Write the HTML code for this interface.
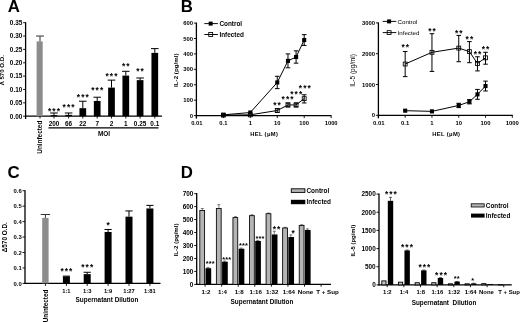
<!DOCTYPE html>
<html><head><meta charset="utf-8"><title>Figure</title>
<style>
html,body{margin:0;padding:0;background:#fff;}
body{width:520px;height:322px;overflow:hidden;}
svg{display:block;font-family:"Liberation Sans",sans-serif;fill:#000;}
</style></head><body>
<svg width="520" height="322" viewBox="0 0 520 322">
<rect x="0" y="0" width="520" height="322" fill="#fff"/>
<text x="7.70" y="12.00" font-size="16.8" text-anchor="start" font-weight="bold">A</text>
<line x1="25.60" y1="119.00" x2="25.60" y2="22.18" stroke="#000" stroke-width="1.3"/>
<line x1="23.10" y1="116.20" x2="25.60" y2="116.20" stroke="#000" stroke-width="0.9"/>
<text x="22.30" y="118.50" font-size="6.4" text-anchor="end" font-weight="bold">0.00</text>
<line x1="23.10" y1="102.84" x2="25.60" y2="102.84" stroke="#000" stroke-width="0.9"/>
<text x="22.30" y="105.14" font-size="6.4" text-anchor="end" font-weight="bold">0.05</text>
<line x1="23.10" y1="89.48" x2="25.60" y2="89.48" stroke="#000" stroke-width="0.9"/>
<text x="22.30" y="91.78" font-size="6.4" text-anchor="end" font-weight="bold">0.10</text>
<line x1="23.10" y1="76.12" x2="25.60" y2="76.12" stroke="#000" stroke-width="0.9"/>
<text x="22.30" y="78.42" font-size="6.4" text-anchor="end" font-weight="bold">0.15</text>
<line x1="23.10" y1="62.76" x2="25.60" y2="62.76" stroke="#000" stroke-width="0.9"/>
<text x="22.30" y="65.06" font-size="6.4" text-anchor="end" font-weight="bold">0.20</text>
<line x1="23.10" y1="49.40" x2="25.60" y2="49.40" stroke="#000" stroke-width="0.9"/>
<text x="22.30" y="51.70" font-size="6.4" text-anchor="end" font-weight="bold">0.25</text>
<line x1="23.10" y1="36.04" x2="25.60" y2="36.04" stroke="#000" stroke-width="0.9"/>
<text x="22.30" y="38.34" font-size="6.4" text-anchor="end" font-weight="bold">0.30</text>
<line x1="23.10" y1="22.68" x2="25.60" y2="22.68" stroke="#000" stroke-width="0.9"/>
<text x="22.30" y="24.98" font-size="6.4" text-anchor="end" font-weight="bold">0.35</text>
<line x1="25.10" y1="116.20" x2="162.00" y2="116.20" stroke="#000" stroke-width="1.3"/>
<rect x="36.60" y="41.38" width="6.10" height="74.82" fill="#8c8c8c"/>
<line x1="40.00" y1="36.04" x2="40.00" y2="41.38" stroke="#333" stroke-width="1.0"/>
<line x1="36.00" y1="36.04" x2="44.00" y2="36.04" stroke="#333" stroke-width="1.0"/>
<line x1="40.00" y1="116.20" x2="40.00" y2="118.50" stroke="#000" stroke-width="0.9"/>
<rect x="50.65" y="115.13" width="6.70" height="1.07" fill="#000"/>
<line x1="54.00" y1="112.99" x2="54.00" y2="115.13" stroke="#000" stroke-width="1.0"/>
<line x1="50.20" y1="112.99" x2="57.80" y2="112.99" stroke="#000" stroke-width="1.0"/>
<line x1="54.00" y1="116.20" x2="54.00" y2="118.50" stroke="#000" stroke-width="0.9"/>
<text x="54.54" y="114.00" font-size="8.4" text-anchor="middle" font-weight="bold" letter-spacing="1.08">***</text>
<text x="54.00" y="125.50" font-size="6.4" text-anchor="middle" font-weight="bold">200</text>
<rect x="65.25" y="114.86" width="6.70" height="1.34" fill="#000"/>
<line x1="68.60" y1="112.99" x2="68.60" y2="114.86" stroke="#000" stroke-width="1.0"/>
<line x1="64.80" y1="112.99" x2="72.40" y2="112.99" stroke="#000" stroke-width="1.0"/>
<line x1="68.60" y1="116.20" x2="68.60" y2="118.50" stroke="#000" stroke-width="0.9"/>
<text x="69.14" y="110.00" font-size="8.4" text-anchor="middle" font-weight="bold" letter-spacing="1.08">***</text>
<text x="68.60" y="125.50" font-size="6.4" text-anchor="middle" font-weight="bold">66</text>
<rect x="79.45" y="108.18" width="6.70" height="8.02" fill="#000"/>
<line x1="82.80" y1="101.24" x2="82.80" y2="108.18" stroke="#000" stroke-width="1.0"/>
<line x1="79.00" y1="101.24" x2="86.60" y2="101.24" stroke="#000" stroke-width="1.0"/>
<line x1="82.80" y1="116.20" x2="82.80" y2="118.50" stroke="#000" stroke-width="0.9"/>
<text x="83.34" y="100.00" font-size="8.4" text-anchor="middle" font-weight="bold" letter-spacing="1.08">***</text>
<text x="82.80" y="125.50" font-size="6.4" text-anchor="middle" font-weight="bold">22</text>
<rect x="93.85" y="100.97" width="6.70" height="15.23" fill="#000"/>
<line x1="97.20" y1="97.23" x2="97.20" y2="100.97" stroke="#000" stroke-width="1.0"/>
<line x1="93.40" y1="97.23" x2="101.00" y2="97.23" stroke="#000" stroke-width="1.0"/>
<line x1="97.20" y1="116.20" x2="97.20" y2="118.50" stroke="#000" stroke-width="0.9"/>
<text x="97.74" y="93.00" font-size="8.4" text-anchor="middle" font-weight="bold" letter-spacing="1.08">***</text>
<text x="97.20" y="125.50" font-size="6.4" text-anchor="middle" font-weight="bold">7</text>
<rect x="108.15" y="87.61" width="6.70" height="28.59" fill="#000"/>
<line x1="111.50" y1="80.13" x2="111.50" y2="87.61" stroke="#000" stroke-width="1.0"/>
<line x1="107.70" y1="80.13" x2="115.30" y2="80.13" stroke="#000" stroke-width="1.0"/>
<line x1="111.50" y1="116.20" x2="111.50" y2="118.50" stroke="#000" stroke-width="0.9"/>
<text x="112.04" y="79.00" font-size="8.4" text-anchor="middle" font-weight="bold" letter-spacing="1.08">***</text>
<text x="111.50" y="125.50" font-size="6.4" text-anchor="middle" font-weight="bold">2</text>
<rect x="122.45" y="75.59" width="6.70" height="40.61" fill="#000"/>
<line x1="125.80" y1="71.31" x2="125.80" y2="75.59" stroke="#000" stroke-width="1.0"/>
<line x1="122.00" y1="71.31" x2="129.60" y2="71.31" stroke="#000" stroke-width="1.0"/>
<line x1="125.80" y1="116.20" x2="125.80" y2="118.50" stroke="#000" stroke-width="0.9"/>
<text x="126.34" y="69.00" font-size="8.4" text-anchor="middle" font-weight="bold" letter-spacing="1.08">**</text>
<text x="125.80" y="125.50" font-size="6.4" text-anchor="middle" font-weight="bold">1</text>
<rect x="136.75" y="80.13" width="6.70" height="36.07" fill="#000"/>
<line x1="140.10" y1="77.99" x2="140.10" y2="80.13" stroke="#000" stroke-width="1.0"/>
<line x1="136.30" y1="77.99" x2="143.90" y2="77.99" stroke="#000" stroke-width="1.0"/>
<line x1="140.10" y1="116.20" x2="140.10" y2="118.50" stroke="#000" stroke-width="0.9"/>
<text x="140.64" y="74.00" font-size="8.4" text-anchor="middle" font-weight="bold" letter-spacing="1.08">**</text>
<text x="140.10" y="125.50" font-size="6.4" text-anchor="middle" font-weight="bold">0.25</text>
<rect x="151.45" y="52.87" width="6.70" height="63.33" fill="#000"/>
<line x1="154.80" y1="48.60" x2="154.80" y2="52.87" stroke="#000" stroke-width="1.0"/>
<line x1="151.00" y1="48.60" x2="158.60" y2="48.60" stroke="#000" stroke-width="1.0"/>
<line x1="154.80" y1="116.20" x2="154.80" y2="118.50" stroke="#000" stroke-width="0.9"/>
<text x="154.80" y="125.50" font-size="6.4" text-anchor="middle" font-weight="bold">0.1</text>
<line x1="48.50" y1="127.90" x2="158.50" y2="127.90" stroke="#000" stroke-width="1.1"/>
<text x="104.00" y="136.00" font-size="6.4" text-anchor="middle" font-weight="bold">MOI</text>
<text x="40.00" y="120.70" font-size="6.4" text-anchor="end" font-weight="bold" transform="rotate(-90 40 120.7)" dominant-baseline="middle">Uninfected</text>
<text x="4.50" y="70.20" font-size="6.1" text-anchor="middle" font-weight="bold" transform="rotate(-90 4.5 70.2)">Λ 570 O.D.</text>
<text x="180.80" y="12.00" font-size="16.8" text-anchor="start" font-weight="bold">B</text>
<line x1="196.40" y1="118.60" x2="196.40" y2="22.58" stroke="#000" stroke-width="1.3"/>
<line x1="193.90" y1="115.60" x2="196.40" y2="115.60" stroke="#000" stroke-width="0.9"/>
<text x="193.10" y="117.72" font-size="5.9" text-anchor="end" font-weight="bold">0</text>
<line x1="193.90" y1="100.18" x2="196.40" y2="100.18" stroke="#000" stroke-width="0.9"/>
<text x="193.10" y="102.30" font-size="5.9" text-anchor="end" font-weight="bold">100</text>
<line x1="193.90" y1="84.76" x2="196.40" y2="84.76" stroke="#000" stroke-width="0.9"/>
<text x="193.10" y="86.88" font-size="5.9" text-anchor="end" font-weight="bold">200</text>
<line x1="193.90" y1="69.34" x2="196.40" y2="69.34" stroke="#000" stroke-width="0.9"/>
<text x="193.10" y="71.46" font-size="5.9" text-anchor="end" font-weight="bold">300</text>
<line x1="193.90" y1="53.92" x2="196.40" y2="53.92" stroke="#000" stroke-width="0.9"/>
<text x="193.10" y="56.04" font-size="5.9" text-anchor="end" font-weight="bold">400</text>
<line x1="193.90" y1="38.50" x2="196.40" y2="38.50" stroke="#000" stroke-width="0.9"/>
<text x="193.10" y="40.62" font-size="5.9" text-anchor="end" font-weight="bold">500</text>
<line x1="193.90" y1="23.08" x2="196.40" y2="23.08" stroke="#000" stroke-width="0.9"/>
<text x="193.10" y="25.20" font-size="5.9" text-anchor="end" font-weight="bold">600</text>
<line x1="195.90" y1="115.60" x2="331.50" y2="115.60" stroke="#000" stroke-width="1.2"/>
<line x1="196.40" y1="115.60" x2="196.40" y2="118.10" stroke="#000" stroke-width="0.9"/>
<text x="196.80" y="125.00" font-size="5.8" text-anchor="middle" font-weight="bold">0.01</text>
<line x1="223.35" y1="115.60" x2="223.35" y2="118.10" stroke="#000" stroke-width="0.9"/>
<text x="223.35" y="125.00" font-size="5.8" text-anchor="middle" font-weight="bold">0.1</text>
<line x1="250.30" y1="115.60" x2="250.30" y2="118.10" stroke="#000" stroke-width="0.9"/>
<text x="250.30" y="125.00" font-size="5.8" text-anchor="middle" font-weight="bold">1</text>
<line x1="277.25" y1="115.60" x2="277.25" y2="118.10" stroke="#000" stroke-width="0.9"/>
<text x="277.25" y="125.00" font-size="5.8" text-anchor="middle" font-weight="bold">10</text>
<line x1="304.20" y1="115.60" x2="304.20" y2="118.10" stroke="#000" stroke-width="0.9"/>
<text x="304.20" y="125.00" font-size="5.8" text-anchor="middle" font-weight="bold">100</text>
<line x1="331.15" y1="115.60" x2="331.15" y2="118.10" stroke="#000" stroke-width="0.9"/>
<text x="331.15" y="125.00" font-size="5.8" text-anchor="middle" font-weight="bold">1000</text>
<text x="264.20" y="136.00" font-size="5.8" text-anchor="middle" font-weight="bold" letter-spacing="0.35">HEL (μM)</text>
<polyline fill="none" stroke="#000" stroke-width="1.0" points="223.35,115.14 250.30,114.83 277.25,110.51 287.97,104.96 296.09,104.96 304.20,98.64"/>
<rect x="221.40" y="113.19" width="3.90" height="3.90" fill="none" stroke="#000" stroke-width="0.85"/>
<rect x="248.35" y="112.88" width="3.90" height="3.90" fill="none" stroke="#000" stroke-width="0.85"/>
<line x1="277.25" y1="112.36" x2="277.25" y2="108.66" stroke="#000" stroke-width="1.0"/>
<line x1="274.95" y1="112.36" x2="279.55" y2="112.36" stroke="#000" stroke-width="1.0"/>
<line x1="274.95" y1="108.66" x2="279.55" y2="108.66" stroke="#000" stroke-width="1.0"/>
<rect x="275.30" y="108.56" width="3.90" height="3.90" fill="none" stroke="#000" stroke-width="0.85"/>
<line x1="287.97" y1="106.96" x2="287.97" y2="102.96" stroke="#000" stroke-width="1.0"/>
<line x1="285.67" y1="106.96" x2="290.27" y2="106.96" stroke="#000" stroke-width="1.0"/>
<line x1="285.67" y1="102.96" x2="290.27" y2="102.96" stroke="#000" stroke-width="1.0"/>
<rect x="286.02" y="103.01" width="3.90" height="3.90" fill="none" stroke="#000" stroke-width="0.85"/>
<line x1="296.09" y1="106.96" x2="296.09" y2="102.96" stroke="#000" stroke-width="1.0"/>
<line x1="293.79" y1="106.96" x2="298.39" y2="106.96" stroke="#000" stroke-width="1.0"/>
<line x1="293.79" y1="102.96" x2="298.39" y2="102.96" stroke="#000" stroke-width="1.0"/>
<rect x="294.14" y="103.01" width="3.90" height="3.90" fill="none" stroke="#000" stroke-width="0.85"/>
<line x1="304.20" y1="102.96" x2="304.20" y2="94.78" stroke="#000" stroke-width="1.0"/>
<line x1="301.90" y1="102.96" x2="306.50" y2="102.96" stroke="#000" stroke-width="1.0"/>
<line x1="301.90" y1="94.78" x2="306.50" y2="94.78" stroke="#000" stroke-width="1.0"/>
<rect x="302.25" y="96.69" width="3.90" height="3.90" fill="none" stroke="#000" stroke-width="0.85"/>
<polyline fill="none" stroke="#000" stroke-width="1.0" points="223.35,114.83 250.30,112.52 277.25,82.45 287.97,60.86 296.09,57.00 304.20,40.04"/>
<rect x="221.30" y="112.78" width="4.10" height="4.10" fill="#000"/>
<rect x="248.25" y="110.47" width="4.10" height="4.10" fill="#000"/>
<line x1="277.25" y1="88.61" x2="277.25" y2="76.28" stroke="#000" stroke-width="1.0"/>
<line x1="274.95" y1="88.61" x2="279.55" y2="88.61" stroke="#000" stroke-width="1.0"/>
<line x1="274.95" y1="76.28" x2="279.55" y2="76.28" stroke="#000" stroke-width="1.0"/>
<rect x="275.20" y="80.40" width="4.10" height="4.10" fill="#000"/>
<line x1="287.97" y1="67.80" x2="287.97" y2="53.92" stroke="#000" stroke-width="1.0"/>
<line x1="285.67" y1="67.80" x2="290.27" y2="67.80" stroke="#000" stroke-width="1.0"/>
<line x1="285.67" y1="53.92" x2="290.27" y2="53.92" stroke="#000" stroke-width="1.0"/>
<rect x="285.92" y="58.81" width="4.10" height="4.10" fill="#000"/>
<line x1="296.09" y1="63.17" x2="296.09" y2="50.84" stroke="#000" stroke-width="1.0"/>
<line x1="293.79" y1="63.17" x2="298.39" y2="63.17" stroke="#000" stroke-width="1.0"/>
<line x1="293.79" y1="50.84" x2="298.39" y2="50.84" stroke="#000" stroke-width="1.0"/>
<rect x="294.04" y="54.95" width="4.10" height="4.10" fill="#000"/>
<line x1="304.20" y1="45.44" x2="304.20" y2="34.64" stroke="#000" stroke-width="1.0"/>
<line x1="301.90" y1="45.44" x2="306.50" y2="45.44" stroke="#000" stroke-width="1.0"/>
<line x1="301.90" y1="34.64" x2="306.50" y2="34.64" stroke="#000" stroke-width="1.0"/>
<rect x="302.15" y="37.99" width="4.10" height="4.10" fill="#000"/>
<text x="277.54" y="108.00" font-size="8.4" text-anchor="middle" font-weight="bold" letter-spacing="1.08">**</text>
<text x="288.14" y="102.00" font-size="8.4" text-anchor="middle" font-weight="bold" letter-spacing="1.08">***</text>
<text x="296.74" y="97.00" font-size="8.4" text-anchor="middle" font-weight="bold" letter-spacing="1.08">***</text>
<text x="305.34" y="91.00" font-size="8.4" text-anchor="middle" font-weight="bold" letter-spacing="1.08">***</text>
<line x1="204.30" y1="23.60" x2="217.90" y2="23.60" stroke="#000" stroke-width="0.95"/>
<rect x="208.70" y="21.60" width="4.00" height="4.00" fill="#000"/>
<text x="219.40" y="26.00" font-size="6.4" text-anchor="start" font-weight="bold">Control</text>
<line x1="204.30" y1="34.50" x2="217.90" y2="34.50" stroke="#000" stroke-width="0.95"/>
<rect x="208.75" y="32.55" width="3.90" height="3.90" fill="none" stroke="#000" stroke-width="0.85"/>
<text x="219.40" y="37.00" font-size="6.4" text-anchor="start" font-weight="bold">Infected</text>
<text x="178.10" y="70.20" font-size="6.2" text-anchor="middle" font-weight="bold" transform="rotate(-90 178.1 70.2)">IL-2 (pg/ml)</text>
<line x1="378.40" y1="118.30" x2="378.40" y2="22.40" stroke="#000" stroke-width="1.3"/>
<line x1="375.90" y1="115.30" x2="378.40" y2="115.30" stroke="#000" stroke-width="0.9"/>
<text x="375.10" y="117.42" font-size="5.9" text-anchor="end" font-weight="bold">0</text>
<line x1="375.90" y1="84.50" x2="378.40" y2="84.50" stroke="#000" stroke-width="0.9"/>
<text x="375.10" y="86.62" font-size="5.9" text-anchor="end" font-weight="bold">1000</text>
<line x1="375.90" y1="53.70" x2="378.40" y2="53.70" stroke="#000" stroke-width="0.9"/>
<text x="375.10" y="55.82" font-size="5.9" text-anchor="end" font-weight="bold">2000</text>
<line x1="375.90" y1="22.90" x2="378.40" y2="22.90" stroke="#000" stroke-width="0.9"/>
<text x="375.10" y="25.02" font-size="5.9" text-anchor="end" font-weight="bold">3000</text>
<line x1="377.90" y1="115.30" x2="512.80" y2="115.30" stroke="#000" stroke-width="1.2"/>
<line x1="378.40" y1="115.30" x2="378.40" y2="117.80" stroke="#000" stroke-width="0.9"/>
<text x="378.80" y="124.90" font-size="5.9" text-anchor="middle" font-weight="bold">0.01</text>
<line x1="405.18" y1="115.30" x2="405.18" y2="117.80" stroke="#000" stroke-width="0.9"/>
<text x="405.18" y="124.90" font-size="5.9" text-anchor="middle" font-weight="bold">0.1</text>
<line x1="431.96" y1="115.30" x2="431.96" y2="117.80" stroke="#000" stroke-width="0.9"/>
<text x="431.96" y="124.90" font-size="5.9" text-anchor="middle" font-weight="bold">1</text>
<line x1="458.74" y1="115.30" x2="458.74" y2="117.80" stroke="#000" stroke-width="0.9"/>
<text x="458.74" y="124.90" font-size="5.9" text-anchor="middle" font-weight="bold">10</text>
<line x1="485.52" y1="115.30" x2="485.52" y2="117.80" stroke="#000" stroke-width="0.9"/>
<text x="485.52" y="124.90" font-size="5.9" text-anchor="middle" font-weight="bold">100</text>
<line x1="512.30" y1="115.30" x2="512.30" y2="117.80" stroke="#000" stroke-width="0.9"/>
<text x="512.30" y="124.90" font-size="5.9" text-anchor="middle" font-weight="bold">1000</text>
<text x="446.30" y="136.00" font-size="5.8" text-anchor="middle" font-weight="bold" letter-spacing="0.35">HEL (μM)</text>
<polyline fill="none" stroke="#000" stroke-width="1.0" points="405.18,64.02 431.96,52.31 458.74,48.09 469.40,51.61 477.46,63.49 485.52,57.80"/>
<line x1="405.18" y1="76.62" x2="405.18" y2="51.54" stroke="#000" stroke-width="1.0"/>
<line x1="402.88" y1="76.62" x2="407.48" y2="76.62" stroke="#000" stroke-width="1.0"/>
<line x1="402.88" y1="51.54" x2="407.48" y2="51.54" stroke="#000" stroke-width="1.0"/>
<rect x="403.23" y="62.07" width="3.90" height="3.90" fill="none" stroke="#000" stroke-width="0.85"/>
<line x1="431.96" y1="71.41" x2="431.96" y2="33.68" stroke="#000" stroke-width="1.0"/>
<line x1="429.66" y1="71.41" x2="434.26" y2="71.41" stroke="#000" stroke-width="1.0"/>
<line x1="429.66" y1="33.68" x2="434.26" y2="33.68" stroke="#000" stroke-width="1.0"/>
<rect x="430.01" y="50.36" width="3.90" height="3.90" fill="none" stroke="#000" stroke-width="0.85"/>
<line x1="458.74" y1="61.71" x2="458.74" y2="35.40" stroke="#000" stroke-width="1.0"/>
<line x1="456.44" y1="61.71" x2="461.04" y2="61.71" stroke="#000" stroke-width="1.0"/>
<line x1="456.44" y1="35.40" x2="461.04" y2="35.40" stroke="#000" stroke-width="1.0"/>
<rect x="456.79" y="46.14" width="3.90" height="3.90" fill="none" stroke="#000" stroke-width="0.85"/>
<line x1="469.40" y1="62.69" x2="469.40" y2="41.60" stroke="#000" stroke-width="1.0"/>
<line x1="467.10" y1="62.69" x2="471.70" y2="62.69" stroke="#000" stroke-width="1.0"/>
<line x1="467.10" y1="41.60" x2="471.70" y2="41.60" stroke="#000" stroke-width="1.0"/>
<rect x="467.45" y="49.66" width="3.90" height="3.90" fill="none" stroke="#000" stroke-width="0.85"/>
<line x1="477.46" y1="70.92" x2="477.46" y2="56.78" stroke="#000" stroke-width="1.0"/>
<line x1="475.16" y1="70.92" x2="479.76" y2="70.92" stroke="#000" stroke-width="1.0"/>
<line x1="475.16" y1="56.78" x2="479.76" y2="56.78" stroke="#000" stroke-width="1.0"/>
<rect x="475.51" y="61.54" width="3.90" height="3.90" fill="none" stroke="#000" stroke-width="0.85"/>
<line x1="485.52" y1="64.20" x2="485.52" y2="52.31" stroke="#000" stroke-width="1.0"/>
<line x1="483.22" y1="64.20" x2="487.82" y2="64.20" stroke="#000" stroke-width="1.0"/>
<line x1="483.22" y1="52.31" x2="487.82" y2="52.31" stroke="#000" stroke-width="1.0"/>
<rect x="483.57" y="55.85" width="3.90" height="3.90" fill="none" stroke="#000" stroke-width="0.85"/>
<polyline fill="none" stroke="#000" stroke-width="1.0" points="405.18,110.68 431.96,111.36 458.74,105.44 469.40,101.75 477.46,94.36 485.52,86.04"/>
<rect x="403.13" y="108.63" width="4.10" height="4.10" fill="#000"/>
<rect x="429.91" y="109.31" width="4.10" height="4.10" fill="#000"/>
<line x1="458.74" y1="107.60" x2="458.74" y2="103.29" stroke="#000" stroke-width="1.0"/>
<line x1="456.44" y1="107.60" x2="461.04" y2="107.60" stroke="#000" stroke-width="1.0"/>
<line x1="456.44" y1="103.29" x2="461.04" y2="103.29" stroke="#000" stroke-width="1.0"/>
<rect x="456.69" y="103.39" width="4.10" height="4.10" fill="#000"/>
<line x1="469.40" y1="103.90" x2="469.40" y2="99.59" stroke="#000" stroke-width="1.0"/>
<line x1="467.10" y1="103.90" x2="471.70" y2="103.90" stroke="#000" stroke-width="1.0"/>
<line x1="467.10" y1="99.59" x2="471.70" y2="99.59" stroke="#000" stroke-width="1.0"/>
<rect x="467.35" y="99.70" width="4.10" height="4.10" fill="#000"/>
<line x1="477.46" y1="99.28" x2="477.46" y2="89.43" stroke="#000" stroke-width="1.0"/>
<line x1="475.16" y1="99.28" x2="479.76" y2="99.28" stroke="#000" stroke-width="1.0"/>
<line x1="475.16" y1="89.43" x2="479.76" y2="89.43" stroke="#000" stroke-width="1.0"/>
<rect x="475.41" y="92.31" width="4.10" height="4.10" fill="#000"/>
<line x1="485.52" y1="90.97" x2="485.52" y2="81.11" stroke="#000" stroke-width="1.0"/>
<line x1="483.22" y1="90.97" x2="487.82" y2="90.97" stroke="#000" stroke-width="1.0"/>
<line x1="483.22" y1="81.11" x2="487.82" y2="81.11" stroke="#000" stroke-width="1.0"/>
<rect x="483.47" y="83.99" width="4.10" height="4.10" fill="#000"/>
<text x="405.72" y="50.00" font-size="8.4" text-anchor="middle" font-weight="bold" letter-spacing="1.08">**</text>
<text x="432.50" y="34.00" font-size="8.4" text-anchor="middle" font-weight="bold" letter-spacing="1.08">**</text>
<text x="459.28" y="36.00" font-size="8.4" text-anchor="middle" font-weight="bold" letter-spacing="1.08">**</text>
<text x="469.94" y="42.00" font-size="8.4" text-anchor="middle" font-weight="bold" letter-spacing="1.08">**</text>
<text x="478.00" y="57.00" font-size="8.4" text-anchor="middle" font-weight="bold" letter-spacing="1.08">**</text>
<text x="486.06" y="52.00" font-size="8.4" text-anchor="middle" font-weight="bold" letter-spacing="1.08">**</text>
<line x1="382.70" y1="21.40" x2="396.30" y2="21.40" stroke="#000" stroke-width="0.95"/>
<rect x="387.10" y="19.40" width="4.00" height="4.00" fill="#000"/>
<text x="397.60" y="24.00" font-size="6.15" text-anchor="start" font-weight="normal">Control</text>
<line x1="382.70" y1="32.60" x2="396.30" y2="32.60" stroke="#000" stroke-width="0.95"/>
<rect x="387.15" y="30.65" width="3.90" height="3.90" fill="none" stroke="#000" stroke-width="0.85"/>
<text x="397.60" y="34.90" font-size="6.15" text-anchor="start" font-weight="normal">Infected</text>
<text x="355.40" y="70.50" font-size="6.4" text-anchor="middle" font-weight="normal" transform="rotate(-90 355.4 70.5)">IL-5 (pg/ml)</text>
<text x="7.40" y="178.00" font-size="16.8" text-anchor="start" font-weight="bold">C</text>
<line x1="25.00" y1="283.90" x2="25.00" y2="190.20" stroke="#000" stroke-width="1.3"/>
<line x1="22.50" y1="283.40" x2="25.00" y2="283.40" stroke="#000" stroke-width="0.9"/>
<text x="21.70" y="285.52" font-size="5.9" text-anchor="end" font-weight="bold">0.0</text>
<line x1="22.50" y1="267.95" x2="25.00" y2="267.95" stroke="#000" stroke-width="0.9"/>
<text x="21.70" y="270.07" font-size="5.9" text-anchor="end" font-weight="bold">0.1</text>
<line x1="22.50" y1="252.50" x2="25.00" y2="252.50" stroke="#000" stroke-width="0.9"/>
<text x="21.70" y="254.62" font-size="5.9" text-anchor="end" font-weight="bold">0.2</text>
<line x1="22.50" y1="237.05" x2="25.00" y2="237.05" stroke="#000" stroke-width="0.9"/>
<text x="21.70" y="239.17" font-size="5.9" text-anchor="end" font-weight="bold">0.3</text>
<line x1="22.50" y1="221.60" x2="25.00" y2="221.60" stroke="#000" stroke-width="0.9"/>
<text x="21.70" y="223.72" font-size="5.9" text-anchor="end" font-weight="bold">0.4</text>
<line x1="22.50" y1="206.15" x2="25.00" y2="206.15" stroke="#000" stroke-width="0.9"/>
<text x="21.70" y="208.27" font-size="5.9" text-anchor="end" font-weight="bold">0.5</text>
<line x1="22.50" y1="190.70" x2="25.00" y2="190.70" stroke="#000" stroke-width="0.9"/>
<text x="21.70" y="192.82" font-size="5.9" text-anchor="end" font-weight="bold">0.6</text>
<line x1="24.50" y1="283.40" x2="160.50" y2="283.40" stroke="#000" stroke-width="1.2"/>
<rect x="42.20" y="217.89" width="6.40" height="65.51" fill="#8c8c8c"/>
<line x1="45.40" y1="214.49" x2="45.40" y2="217.89" stroke="#333" stroke-width="1.0"/>
<line x1="40.70" y1="214.49" x2="50.10" y2="214.49" stroke="#333" stroke-width="1.0"/>
<line x1="45.40" y1="283.40" x2="45.40" y2="285.90" stroke="#000" stroke-width="0.9"/>
<rect x="62.90" y="276.45" width="7.00" height="6.95" fill="#000"/>
<line x1="66.40" y1="276.14" x2="66.40" y2="276.45" stroke="#000" stroke-width="1.0"/>
<line x1="62.80" y1="276.14" x2="70.00" y2="276.14" stroke="#000" stroke-width="1.0"/>
<line x1="66.40" y1="283.40" x2="66.40" y2="285.90" stroke="#000" stroke-width="0.9"/>
<text x="66.94" y="274.00" font-size="8.4" text-anchor="middle" font-weight="bold" letter-spacing="1.08">***</text>
<text x="66.40" y="292.80" font-size="5.8" text-anchor="middle" font-weight="bold">1:1</text>
<rect x="83.70" y="274.13" width="7.00" height="9.27" fill="#000"/>
<line x1="87.20" y1="272.28" x2="87.20" y2="274.13" stroke="#000" stroke-width="1.0"/>
<line x1="83.60" y1="272.28" x2="90.80" y2="272.28" stroke="#000" stroke-width="1.0"/>
<line x1="87.20" y1="283.40" x2="87.20" y2="285.90" stroke="#000" stroke-width="0.9"/>
<text x="87.74" y="270.00" font-size="8.4" text-anchor="middle" font-weight="bold" letter-spacing="1.08">***</text>
<text x="87.20" y="292.80" font-size="5.8" text-anchor="middle" font-weight="bold">1:3</text>
<rect x="104.60" y="231.95" width="7.00" height="51.45" fill="#000"/>
<line x1="108.10" y1="229.48" x2="108.10" y2="231.95" stroke="#000" stroke-width="1.0"/>
<line x1="104.50" y1="229.48" x2="111.70" y2="229.48" stroke="#000" stroke-width="1.0"/>
<line x1="108.10" y1="283.40" x2="108.10" y2="285.90" stroke="#000" stroke-width="0.9"/>
<text x="108.64" y="228.00" font-size="8.4" text-anchor="middle" font-weight="bold" letter-spacing="1.08">*</text>
<text x="108.10" y="292.80" font-size="5.8" text-anchor="middle" font-weight="bold">1:9</text>
<rect x="125.50" y="216.66" width="7.00" height="66.74" fill="#000"/>
<line x1="129.00" y1="210.94" x2="129.00" y2="216.66" stroke="#000" stroke-width="1.0"/>
<line x1="125.40" y1="210.94" x2="132.60" y2="210.94" stroke="#000" stroke-width="1.0"/>
<line x1="129.00" y1="283.40" x2="129.00" y2="285.90" stroke="#000" stroke-width="0.9"/>
<text x="129.00" y="292.80" font-size="5.8" text-anchor="middle" font-weight="bold">1:27</text>
<rect x="146.40" y="208.47" width="7.00" height="74.93" fill="#000"/>
<line x1="149.90" y1="205.38" x2="149.90" y2="208.47" stroke="#000" stroke-width="1.0"/>
<line x1="146.30" y1="205.38" x2="153.50" y2="205.38" stroke="#000" stroke-width="1.0"/>
<line x1="149.90" y1="283.40" x2="149.90" y2="285.90" stroke="#000" stroke-width="0.9"/>
<text x="149.90" y="292.80" font-size="5.8" text-anchor="middle" font-weight="bold">1:81</text>
<text x="107.00" y="301.80" font-size="6.4" text-anchor="middle" font-weight="bold">Supernatant Dilution</text>
<text x="46.30" y="289.70" font-size="6.3" text-anchor="end" font-weight="bold" transform="rotate(-90 46.3 289.7)" dominant-baseline="middle">Uninfected</text>
<text x="7.20" y="237.20" font-size="6.4" text-anchor="middle" font-weight="bold" transform="rotate(-90 7.2 237.2)">Δ570 O.D.</text>
<text x="180.80" y="178.00" font-size="16.8" text-anchor="start" font-weight="bold">D</text>
<line x1="196.70" y1="284.90" x2="196.70" y2="193.11" stroke="#000" stroke-width="1.3"/>
<line x1="194.20" y1="284.40" x2="196.70" y2="284.40" stroke="#000" stroke-width="0.9"/>
<text x="193.40" y="286.70" font-size="6.4" text-anchor="end" font-weight="bold">0</text>
<line x1="194.20" y1="271.43" x2="196.70" y2="271.43" stroke="#000" stroke-width="0.9"/>
<text x="193.40" y="273.73" font-size="6.4" text-anchor="end" font-weight="bold">100</text>
<line x1="194.20" y1="258.46" x2="196.70" y2="258.46" stroke="#000" stroke-width="0.9"/>
<text x="193.40" y="260.76" font-size="6.4" text-anchor="end" font-weight="bold">200</text>
<line x1="194.20" y1="245.49" x2="196.70" y2="245.49" stroke="#000" stroke-width="0.9"/>
<text x="193.40" y="247.79" font-size="6.4" text-anchor="end" font-weight="bold">300</text>
<line x1="194.20" y1="232.52" x2="196.70" y2="232.52" stroke="#000" stroke-width="0.9"/>
<text x="193.40" y="234.82" font-size="6.4" text-anchor="end" font-weight="bold">400</text>
<line x1="194.20" y1="219.55" x2="196.70" y2="219.55" stroke="#000" stroke-width="0.9"/>
<text x="193.40" y="221.85" font-size="6.4" text-anchor="end" font-weight="bold">500</text>
<line x1="194.20" y1="206.58" x2="196.70" y2="206.58" stroke="#000" stroke-width="0.9"/>
<text x="193.40" y="208.88" font-size="6.4" text-anchor="end" font-weight="bold">600</text>
<line x1="194.20" y1="193.61" x2="196.70" y2="193.61" stroke="#000" stroke-width="0.9"/>
<text x="193.40" y="195.91" font-size="6.4" text-anchor="end" font-weight="bold">700</text>
<line x1="196.20" y1="284.40" x2="331.00" y2="284.40" stroke="#000" stroke-width="1.2"/>
<line x1="202.30" y1="208.53" x2="202.30" y2="210.47" stroke="#000" stroke-width="0.5"/>
<line x1="200.80" y1="208.53" x2="203.80" y2="208.53" stroke="#000" stroke-width="0.5"/>
<rect x="199.80" y="210.47" width="4.80" height="73.93" fill="#b4b4b4" stroke="#000" stroke-width="0.85"/>
<line x1="208.00" y1="267.54" x2="208.00" y2="268.19" stroke="#000" stroke-width="0.5"/>
<line x1="206.50" y1="267.54" x2="209.50" y2="267.54" stroke="#000" stroke-width="0.5"/>
<rect x="205.50" y="268.19" width="5.70" height="16.21" fill="#000"/>
<text x="210.26" y="266.00" font-size="7.4" text-anchor="middle" font-weight="bold" letter-spacing="0.12">***</text>
<line x1="205.10" y1="284.40" x2="205.10" y2="286.70" stroke="#000" stroke-width="0.9"/>
<text x="206.00" y="293.70" font-size="6.2" text-anchor="middle" font-weight="bold">1:2</text>
<line x1="218.87" y1="204.63" x2="218.87" y2="208.53" stroke="#000" stroke-width="0.5"/>
<line x1="217.37" y1="204.63" x2="220.37" y2="204.63" stroke="#000" stroke-width="0.5"/>
<rect x="216.37" y="208.53" width="4.80" height="75.87" fill="#b4b4b4" stroke="#000" stroke-width="0.85"/>
<line x1="224.57" y1="261.05" x2="224.57" y2="261.70" stroke="#000" stroke-width="0.5"/>
<line x1="223.07" y1="261.05" x2="226.07" y2="261.05" stroke="#000" stroke-width="0.5"/>
<rect x="222.07" y="261.70" width="5.70" height="22.70" fill="#000"/>
<text x="226.83" y="262.00" font-size="7.4" text-anchor="middle" font-weight="bold" letter-spacing="0.12">***</text>
<line x1="221.67" y1="284.40" x2="221.67" y2="286.70" stroke="#000" stroke-width="0.9"/>
<text x="222.57" y="293.70" font-size="6.2" text-anchor="middle" font-weight="bold">1:4</text>
<line x1="235.44" y1="216.70" x2="235.44" y2="217.60" stroke="#000" stroke-width="0.5"/>
<line x1="233.94" y1="216.70" x2="236.94" y2="216.70" stroke="#000" stroke-width="0.5"/>
<rect x="232.94" y="217.60" width="4.80" height="66.80" fill="#b4b4b4" stroke="#000" stroke-width="0.85"/>
<line x1="241.14" y1="248.08" x2="241.14" y2="248.73" stroke="#000" stroke-width="0.5"/>
<line x1="239.64" y1="248.08" x2="242.64" y2="248.08" stroke="#000" stroke-width="0.5"/>
<rect x="238.64" y="248.73" width="5.70" height="35.67" fill="#000"/>
<text x="243.40" y="248.00" font-size="7.4" text-anchor="middle" font-weight="bold" letter-spacing="0.12">***</text>
<line x1="238.24" y1="284.40" x2="238.24" y2="286.70" stroke="#000" stroke-width="0.9"/>
<text x="239.14" y="293.70" font-size="6.2" text-anchor="middle" font-weight="bold">1:8</text>
<line x1="252.01" y1="214.75" x2="252.01" y2="215.66" stroke="#000" stroke-width="0.5"/>
<line x1="250.51" y1="214.75" x2="253.51" y2="214.75" stroke="#000" stroke-width="0.5"/>
<rect x="249.51" y="215.66" width="4.80" height="68.74" fill="#b4b4b4" stroke="#000" stroke-width="0.85"/>
<line x1="257.71" y1="240.30" x2="257.71" y2="240.95" stroke="#000" stroke-width="0.5"/>
<line x1="256.21" y1="240.30" x2="259.21" y2="240.30" stroke="#000" stroke-width="0.5"/>
<rect x="255.21" y="240.95" width="5.70" height="43.45" fill="#000"/>
<text x="259.97" y="241.00" font-size="7.4" text-anchor="middle" font-weight="bold" letter-spacing="0.12">***</text>
<line x1="254.81" y1="284.40" x2="254.81" y2="286.70" stroke="#000" stroke-width="0.9"/>
<text x="255.71" y="293.70" font-size="6.2" text-anchor="middle" font-weight="bold">1:16</text>
<line x1="268.58" y1="213.06" x2="268.58" y2="213.71" stroke="#000" stroke-width="0.5"/>
<line x1="267.08" y1="213.06" x2="270.08" y2="213.06" stroke="#000" stroke-width="0.5"/>
<rect x="266.08" y="213.71" width="4.80" height="70.69" fill="#b4b4b4" stroke="#000" stroke-width="0.85"/>
<line x1="274.28" y1="231.22" x2="274.28" y2="234.47" stroke="#000" stroke-width="0.5"/>
<line x1="272.78" y1="231.22" x2="275.78" y2="231.22" stroke="#000" stroke-width="0.5"/>
<rect x="271.78" y="234.47" width="5.70" height="49.93" fill="#000"/>
<text x="277.02" y="232.00" font-size="8.4" text-anchor="middle" font-weight="bold" letter-spacing="1.08">**</text>
<line x1="271.38" y1="284.40" x2="271.38" y2="286.70" stroke="#000" stroke-width="0.9"/>
<text x="272.28" y="293.70" font-size="6.2" text-anchor="middle" font-weight="bold">1:32</text>
<line x1="285.15" y1="227.33" x2="285.15" y2="227.98" stroke="#000" stroke-width="0.5"/>
<line x1="283.65" y1="227.33" x2="286.65" y2="227.33" stroke="#000" stroke-width="0.5"/>
<rect x="282.65" y="227.98" width="4.80" height="56.42" fill="#b4b4b4" stroke="#000" stroke-width="0.85"/>
<line x1="290.85" y1="234.85" x2="290.85" y2="237.06" stroke="#000" stroke-width="0.5"/>
<line x1="289.35" y1="234.85" x2="292.35" y2="234.85" stroke="#000" stroke-width="0.5"/>
<rect x="288.35" y="237.06" width="5.70" height="47.34" fill="#000"/>
<text x="293.59" y="236.00" font-size="8.4" text-anchor="middle" font-weight="bold" letter-spacing="1.08">*</text>
<line x1="287.95" y1="284.40" x2="287.95" y2="286.70" stroke="#000" stroke-width="0.9"/>
<text x="288.85" y="293.70" font-size="6.2" text-anchor="middle" font-weight="bold">1:64</text>
<line x1="301.72" y1="224.74" x2="301.72" y2="225.39" stroke="#000" stroke-width="0.5"/>
<line x1="300.22" y1="224.74" x2="303.22" y2="224.74" stroke="#000" stroke-width="0.5"/>
<rect x="299.22" y="225.39" width="4.80" height="59.01" fill="#b4b4b4" stroke="#000" stroke-width="0.85"/>
<line x1="307.42" y1="228.89" x2="307.42" y2="229.93" stroke="#000" stroke-width="0.5"/>
<line x1="305.92" y1="228.89" x2="308.92" y2="228.89" stroke="#000" stroke-width="0.5"/>
<rect x="304.92" y="229.93" width="5.70" height="54.47" fill="#000"/>
<line x1="304.52" y1="284.40" x2="304.52" y2="286.70" stroke="#000" stroke-width="0.9"/>
<text x="305.42" y="293.70" font-size="6.2" text-anchor="middle" font-weight="bold">None</text>
<line x1="321.09" y1="284.40" x2="321.09" y2="286.70" stroke="#000" stroke-width="0.9"/>
<text x="327.49" y="293.70" font-size="6.2" text-anchor="middle" font-weight="bold">T + Sup</text>
<text x="262.00" y="303.60" font-size="6.4" text-anchor="middle" font-weight="bold">Supernatant Dilution</text>
<rect x="291.30" y="188.80" width="13.60" height="3.60" fill="#b4b4b4" stroke="#000" stroke-width="0.9"/>
<text x="306.50" y="193.30" font-size="6.4" text-anchor="start" font-weight="bold">Control</text>
<rect x="290.90" y="199.80" width="14.40" height="4.40" fill="#000"/>
<text x="306.50" y="204.10" font-size="6.4" text-anchor="start" font-weight="bold">Infected</text>
<text x="178.40" y="239.90" font-size="6.1" text-anchor="middle" font-weight="bold" transform="rotate(-90 178.4 239.9)">IL-2 (pg/ml)</text>
<line x1="379.00" y1="285.40" x2="379.00" y2="193.60" stroke="#000" stroke-width="1.3"/>
<line x1="376.50" y1="284.90" x2="379.00" y2="284.90" stroke="#000" stroke-width="0.9"/>
<text x="375.70" y="287.20" font-size="6.4" text-anchor="end" font-weight="bold">0</text>
<line x1="376.50" y1="266.74" x2="379.00" y2="266.74" stroke="#000" stroke-width="0.9"/>
<text x="375.70" y="269.04" font-size="6.4" text-anchor="end" font-weight="bold">500</text>
<line x1="376.50" y1="248.58" x2="379.00" y2="248.58" stroke="#000" stroke-width="0.9"/>
<text x="375.70" y="250.88" font-size="6.4" text-anchor="end" font-weight="bold">1000</text>
<line x1="376.50" y1="230.42" x2="379.00" y2="230.42" stroke="#000" stroke-width="0.9"/>
<text x="375.70" y="232.72" font-size="6.4" text-anchor="end" font-weight="bold">1500</text>
<line x1="376.50" y1="212.26" x2="379.00" y2="212.26" stroke="#000" stroke-width="0.9"/>
<text x="375.70" y="214.56" font-size="6.4" text-anchor="end" font-weight="bold">2000</text>
<line x1="376.50" y1="194.10" x2="379.00" y2="194.10" stroke="#000" stroke-width="0.9"/>
<text x="375.70" y="196.40" font-size="6.4" text-anchor="end" font-weight="bold">2500</text>
<line x1="378.50" y1="284.90" x2="511.80" y2="284.90" stroke="#000" stroke-width="1.2"/>
<rect x="381.80" y="280.90" width="4.20" height="4.00" fill="#c4c4c4" stroke="#000" stroke-width="0.9"/>
<line x1="390.50" y1="197.37" x2="390.50" y2="200.82" stroke="#000" stroke-width="0.6"/>
<line x1="389.00" y1="197.37" x2="392.00" y2="197.37" stroke="#000" stroke-width="0.6"/>
<rect x="387.80" y="200.82" width="5.40" height="84.08" fill="#000"/>
<text x="391.44" y="197.00" font-size="8.4" text-anchor="middle" font-weight="bold" letter-spacing="1.08">***</text>
<line x1="387.20" y1="284.90" x2="387.20" y2="287.20" stroke="#000" stroke-width="0.9"/>
<text x="387.40" y="294.10" font-size="5.95" text-anchor="middle" font-weight="bold">1:2</text>
<rect x="398.45" y="282.18" width="4.20" height="2.72" fill="#c4c4c4" stroke="#000" stroke-width="0.9"/>
<line x1="407.15" y1="250.03" x2="407.15" y2="250.40" stroke="#000" stroke-width="0.6"/>
<line x1="405.65" y1="250.03" x2="408.65" y2="250.03" stroke="#000" stroke-width="0.6"/>
<rect x="404.45" y="250.40" width="5.40" height="34.50" fill="#000"/>
<text x="407.54" y="250.00" font-size="8.4" text-anchor="middle" font-weight="bold" letter-spacing="1.08">***</text>
<line x1="403.85" y1="284.90" x2="403.85" y2="287.20" stroke="#000" stroke-width="0.9"/>
<text x="404.05" y="294.10" font-size="5.95" text-anchor="middle" font-weight="bold">1:4</text>
<rect x="415.10" y="282.72" width="4.20" height="2.18" fill="#c4c4c4" stroke="#000" stroke-width="0.9"/>
<line x1="423.80" y1="270.01" x2="423.80" y2="270.37" stroke="#000" stroke-width="0.6"/>
<line x1="422.30" y1="270.01" x2="425.30" y2="270.01" stroke="#000" stroke-width="0.6"/>
<rect x="421.10" y="270.37" width="5.40" height="14.53" fill="#000"/>
<text x="424.94" y="270.00" font-size="8.4" text-anchor="middle" font-weight="bold" letter-spacing="1.08">***</text>
<line x1="420.50" y1="284.90" x2="420.50" y2="287.20" stroke="#000" stroke-width="0.9"/>
<text x="420.70" y="294.10" font-size="5.95" text-anchor="middle" font-weight="bold">1:8</text>
<rect x="431.75" y="282.72" width="4.20" height="2.18" fill="#c4c4c4" stroke="#000" stroke-width="0.9"/>
<line x1="440.45" y1="277.64" x2="440.45" y2="278.00" stroke="#000" stroke-width="0.6"/>
<line x1="438.95" y1="277.64" x2="441.95" y2="277.64" stroke="#000" stroke-width="0.6"/>
<rect x="437.75" y="278.00" width="5.40" height="6.90" fill="#000"/>
<text x="441.64" y="278.00" font-size="8.4" text-anchor="middle" font-weight="bold" letter-spacing="1.08">***</text>
<line x1="437.15" y1="284.90" x2="437.15" y2="287.20" stroke="#000" stroke-width="0.9"/>
<text x="437.35" y="294.10" font-size="5.95" text-anchor="middle" font-weight="bold">1:16</text>
<rect x="448.40" y="283.81" width="4.20" height="1.09" fill="#c4c4c4" stroke="#000" stroke-width="0.9"/>
<line x1="457.10" y1="281.45" x2="457.10" y2="281.63" stroke="#000" stroke-width="0.6"/>
<line x1="455.60" y1="281.45" x2="458.60" y2="281.45" stroke="#000" stroke-width="0.6"/>
<rect x="454.40" y="281.63" width="5.40" height="3.27" fill="#000"/>
<text x="456.76" y="281.00" font-size="7.4" text-anchor="middle" font-weight="bold" letter-spacing="0.12">**</text>
<line x1="453.80" y1="284.90" x2="453.80" y2="287.20" stroke="#000" stroke-width="0.9"/>
<text x="454.00" y="294.10" font-size="5.95" text-anchor="middle" font-weight="bold">1:32</text>
<rect x="465.05" y="283.81" width="4.20" height="1.09" fill="#c4c4c4" stroke="#000" stroke-width="0.9"/>
<line x1="473.75" y1="283.27" x2="473.75" y2="283.45" stroke="#000" stroke-width="0.6"/>
<line x1="472.25" y1="283.27" x2="475.25" y2="283.27" stroke="#000" stroke-width="0.6"/>
<rect x="471.05" y="283.45" width="5.40" height="1.45" fill="#000"/>
<text x="472.66" y="283.00" font-size="7.4" text-anchor="middle" font-weight="bold" letter-spacing="0.12">*</text>
<line x1="470.45" y1="284.90" x2="470.45" y2="287.20" stroke="#000" stroke-width="0.9"/>
<text x="470.65" y="294.10" font-size="5.95" text-anchor="middle" font-weight="bold">1:64</text>
<rect x="481.70" y="283.63" width="4.20" height="1.27" fill="#c4c4c4" stroke="#000" stroke-width="0.9"/>
<rect x="487.70" y="283.99" width="5.40" height="0.91" fill="#000"/>
<line x1="487.10" y1="284.90" x2="487.10" y2="287.20" stroke="#000" stroke-width="0.9"/>
<text x="486.40" y="294.10" font-size="5.95" text-anchor="middle" font-weight="bold">None</text>
<rect x="498.35" y="284.72" width="4.20" height="0.18" fill="#c4c4c4" stroke="#000" stroke-width="0.9"/>
<rect x="504.35" y="284.72" width="5.40" height="0.18" fill="#000"/>
<line x1="503.75" y1="284.90" x2="503.75" y2="287.20" stroke="#000" stroke-width="0.9"/>
<text x="509.05" y="294.10" font-size="5.95" text-anchor="middle" font-weight="bold">T + Sup</text>
<text x="444.00" y="304.60" font-size="6.4" text-anchor="middle" font-weight="bold" xml:space="preserve">Supernatant  Dilution</text>
<rect x="471.20" y="203.80" width="13.00" height="3.20" fill="#b4b4b4" stroke="#000" stroke-width="0.8"/>
<text x="485.80" y="207.80" font-size="6.4" text-anchor="start" font-weight="bold">Control</text>
<rect x="471.00" y="213.60" width="13.60" height="4.00" fill="#000"/>
<text x="485.80" y="218.30" font-size="6.4" text-anchor="start" font-weight="bold">Infected</text>
<text x="355.30" y="240.70" font-size="5.9" text-anchor="middle" font-weight="bold" transform="rotate(-90 355.3 240.7)">IL-5 (pg/ml)</text>
</svg>
</body></html>
